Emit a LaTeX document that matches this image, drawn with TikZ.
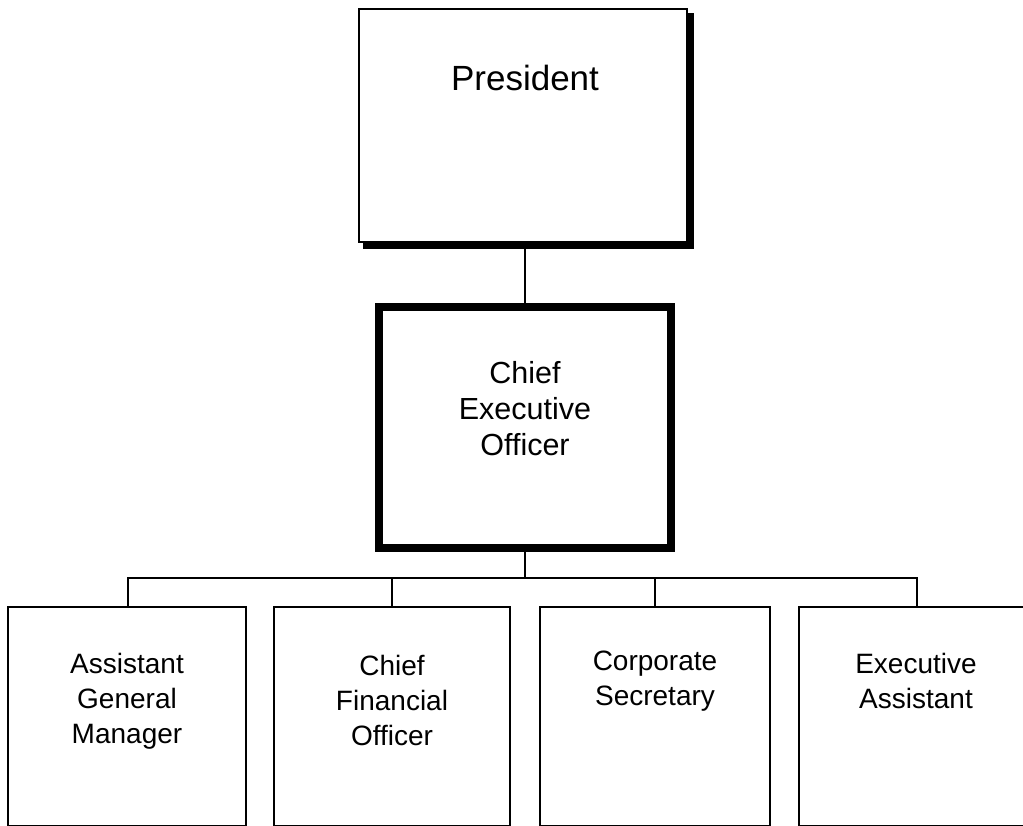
\documentclass[tikz,border=0pt]{standalone}
\usepackage{fontspec}
\setmainfont{Liberation Sans}
\begin{document}
\begin{tikzpicture}[x=1pt,y=-1pt,
  thinbox/.style={draw=black, line width=2.4pt, minimum width=#1, minimum height=219pt, inner sep=0pt},
  thinbox/.default=236pt,
  label28/.style={align=center, font=\fontsize{28}{35}\selectfont, inner sep=0pt},
  conn/.style={draw=black, line width=2pt}]
\useasboundingbox (0,0) rectangle (1023,826);
\clip (0,0) rectangle (1023,826);
% President with shadow
\node[draw=black, line width=2.6pt, minimum width=328pt, minimum height=233pt, inner sep=0pt] (pres) at (523,125.5) {};
\fill[black] ([shift={(-1,-230)}]pres.south east) rectangle ([shift={(6,6)}]pres.south east);
\fill[black] ([shift={(-325,-2)}]pres.south east) rectangle ([shift={(6,6)}]pres.south east);
\node[font=\fontsize{35}{42}\selectfont, inner sep=0pt] (prestxt) at (525,78) {President};
% CEO
\node[draw=black, line width=8pt, minimum width=292pt, minimum height=241pt, inner sep=0pt] (ceo) at (525,427.5) {};
\node[align=center, font=\fontsize{30.5}{36}\selectfont, inner sep=0pt] (ceotxt) at (525,409) {Chief\\Executive\\Officer};
% bottom boxes
\node[thinbox=238pt] (b1) at (127,716.5) {};
\node[thinbox=236pt] (b2) at (392,716.5) {};
\node[thinbox=230pt] (b3) at (655,716.5) {};
\node[thinbox=236pt] (b4) at (917,716.5) {};
\node[label28] (t1) at (127,701) {Assistant\\General\\Manager};
\node[label28] (t2) at (392,700) {Chief\\Financial\\Officer};
\node[label28] (t3) at (655,681) {Corporate\\Secretary};
\node[label28] (t4) at (916,681) {Executive\\Assistant};
% connectors
\coordinate (bus) at (525,578);
\draw[conn] (pres.south -| ceo.north) ++(0,6) -- (ceo.north);
\draw[conn] (ceo.south) -- (bus);
\draw[conn] ([xshift=1pt]b1.north) -- ([xshift=1pt]b1.north |- bus) -- (b4.north |- bus) -- (b4.north);
\draw[conn] (b2.north) -- (b2.north |- bus);
\draw[conn] (b3.north) -- (b3.north |- bus);
\end{tikzpicture}
\end{document}
